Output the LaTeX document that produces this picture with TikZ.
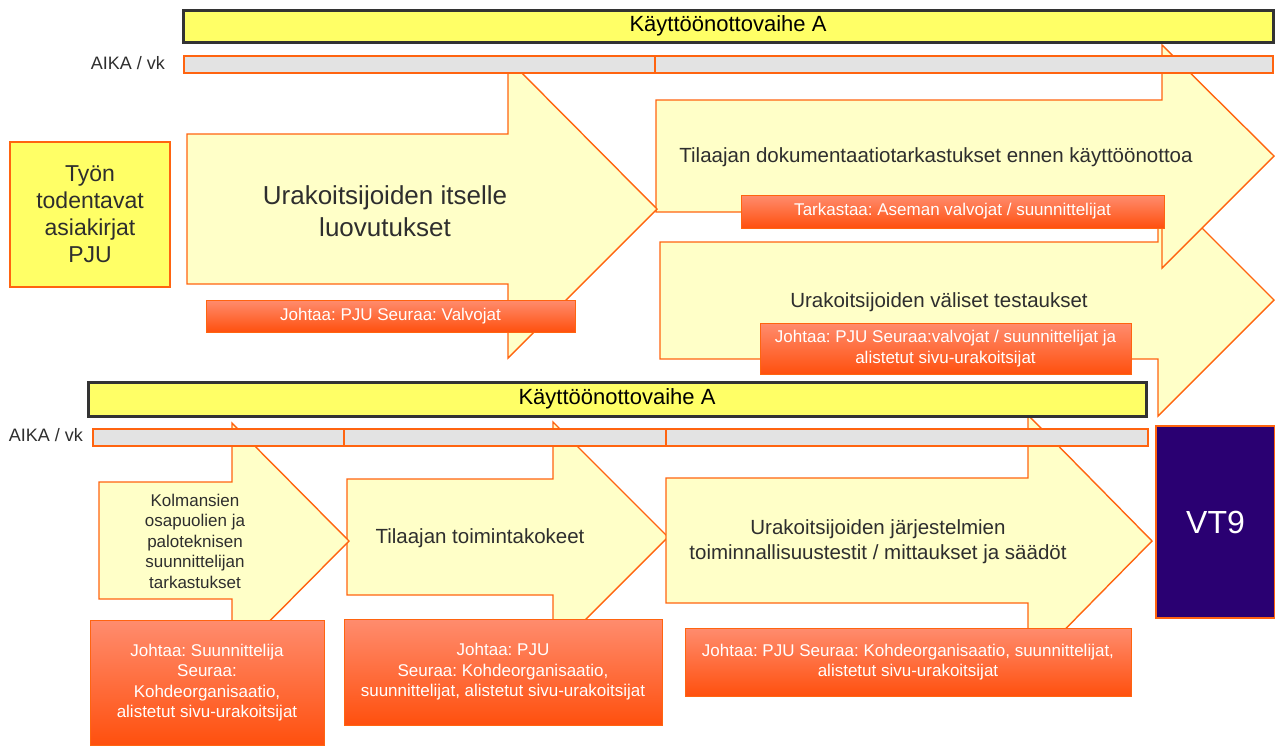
\documentclass[tikz,border=0pt]{standalone}
\usepackage{fontspec}
\setmainfont{Liberation Sans}
\frenchspacing
\definecolor{barYellow}{HTML}{FFFF66}
\definecolor{barEdge}{HTML}{333333}
\definecolor{arrowFill}{HTML}{FFFFC8}
\definecolor{edgeOrange}{HTML}{FF6410}
\definecolor{timeGray}{HTML}{E3E3E3}
\definecolor{labelTop}{HTML}{FF8C6E}
\definecolor{labelBottom}{HTML}{FF500E}
\definecolor{vtPurple}{HTML}{2A0072}
\definecolor{textDark}{HTML}{2E2E2E}
% phase arrow: left, top, bottom, head base, head top, tip x, tip y, head bottom
\newcommand\phasearrow[8]{%
  \draw[arrowbody] (#1,#2) -- (#4,#2) -- (#4,#5) -- (#6,#7) -- (#4,#8)
    -- (#4,#3) -- (#1,#3) -- cycle;}
\begin{document}
\begin{tikzpicture}[x=1pt,y=-1pt,
  arrowbody/.style={fill=arrowFill,draw=edgeOrange,line width=1.4pt},
  phasebar/.style={rectangle,fill=barYellow,draw=barEdge,line width=3pt,
    inner sep=0pt,outer sep=0pt,text=black,font=\fontsize{22}{26}\selectfont},
  timebar/.style={rectangle,fill=timeGray,draw=edgeOrange,line width=1.4pt,
    inner sep=0pt,outer sep=0pt,minimum height=17pt},
  tag/.style={rectangle,top color=labelTop,bottom color=labelBottom,
    draw=edgeOrange,line width=1pt,inner sep=0pt,outer sep=0pt,align=center,
    text=white,font=\fontsize{17}{20.5}\selectfont},
  atext/.style={align=center,text=textDark,inner sep=0pt},
  timelabel/.style={text=textDark,inner sep=0pt,font=\fontsize{18}{20}\selectfont}
]
\useasboundingbox (0,0) rectangle (1275,745);

% ---------- upper phase ----------
\phasearrow{660}{242}{359}{1158}{184}{1274}{300}{416}
\phasearrow{656}{100}{212}{1162}{45}{1274}{156}{268}
\phasearrow{187}{134}{284}{508}{59}{657}{209}{358}

\node[timebar,minimum width=471pt] (tg1) at (419.5,64.5) {};
\node[timebar,minimum width=618pt] (tg2) at (964,64.5) {};
\node[phasebar,minimum width=1090pt,minimum height=32pt] (tbar) at (728,26) {Käyttöönottovaihe A};
\node[timelabel,anchor=east] (taika) at (165,63) {AIKA / vk};

\node[rectangle,fill=barYellow,draw=edgeOrange,line width=1.4pt,
  minimum width=160pt,minimum height=145pt,inner sep=0pt,align=center,
  text=textDark,font=\fontsize{23}{27}\selectfont] (docs) at (90,214.5)
  {Työn\\todentavat\\asiakirjat\\PJU};

\node[atext,font=\fontsize{26}{32}\selectfont] (t1) at (385,211)
  {Urakoitsijoiden itselle\\luovutukset};
\node[atext,font=\fontsize{20.5}{25}\selectfont] (t2) at (936,157)
  {Tilaajan dokumentaatiotarkastukset ennen käyttöönottoa};
\node[atext,font=\fontsize{20.5}{25}\selectfont] (t3) at (939,302)
  {Urakoitsijoiden väliset testaukset};

\node[tag,minimum width=369pt,minimum height=32pt] (l1) at (390.5,316)
  {Johtaa: PJU Seuraa: Valvojat};
\node[tag,minimum width=423pt,minimum height=33pt] (l2) at (952.5,211.5)
  {Tarkastaa: Aseman valvojat / suunnittelijat};
\node[tag,minimum width=371pt,minimum height=51pt] (l3) at (945.5,348.5)
  {Johtaa: PJU Seuraa:valvojat / suunnittelijat ja\\alistetut sivu-urakoitsijat};

% ---------- lower phase ----------
\phasearrow{347}{479}{595}{553}{422}{668}{537}{652}
\phasearrow{666}{478}{603}{1028}{415}{1152}{541}{667}
\phasearrow{99}{482}{599}{232}{423}{349}{541}{659}

\node[timebar,minimum width=251pt] (bg1) at (218.5,437.5) {};
\node[timebar,minimum width=322pt] (bg2) at (505,437.5) {};
\node[timebar,minimum width=482pt] (bg3) at (907,437.5) {};
\node[phasebar,minimum width=1058pt,minimum height=34pt] (bbar) at (617,399) {Käyttöönottovaihe A};
\node[timelabel,anchor=east] (baika) at (83,435) {AIKA / vk};

\node[atext,font=\fontsize{17}{20.5}\selectfont] (ta) at (195,541)
  {Kolmansien\\osapuolien ja\\paloteknisen\\suunnittelijan\\tarkastukset};
\node[atext,font=\fontsize{20.5}{25}\selectfont] (tb) at (480,538)
  {Tilaajan toimintakokeet};
\node[atext,font=\fontsize{20.5}{25}\selectfont] (tc) at (878,541.5)
  {Urakoitsijoiden järjestelmien\\toiminnallisuustestit / mittaukset ja säädöt};

\node[tag,minimum width=234pt,minimum height=125pt] (la) at (207,682.5)
  {Johtaa: Suunnittelija\\Seuraa:\\Kohdeorganisaatio,\\alistetut sivu-urakoitsijat};
\node[tag,minimum width=318pt,minimum height=106pt] (lb) at (503,672)
  {Johtaa: PJU\\Seuraa: Kohdeorganisaatio,\\suunnittelijat, alistetut sivu-urakoitsijat};
\node[tag,minimum width=446pt,minimum height=68pt] (lc) at (908,662)
  {Johtaa: PJU Seuraa: Kohdeorganisaatio, suunnittelijat,\\alistetut sivu-urakoitsijat};

\node[rectangle,fill=vtPurple,draw=edgeOrange,line width=1.4pt,inner sep=0pt,
  minimum width=119pt,minimum height=192pt,text=white,
  font=\fontsize{32}{36}\selectfont] (vt) at (1215.5,522) {VT9};
\end{tikzpicture}
\end{document}
